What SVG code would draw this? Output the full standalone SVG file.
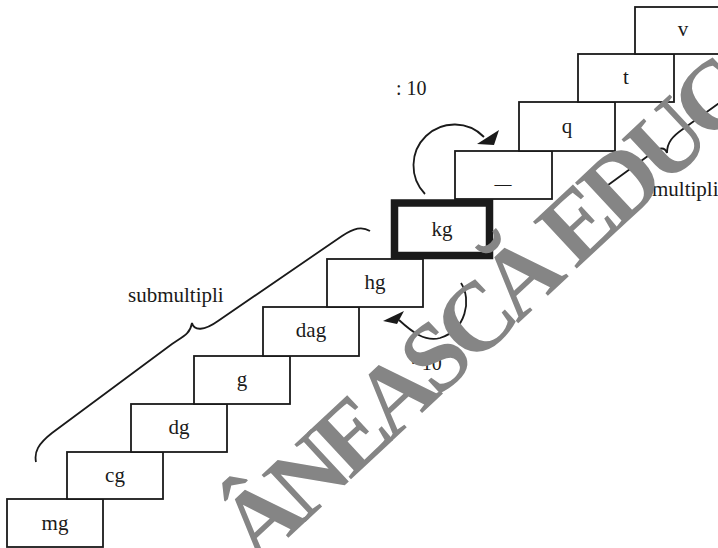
<svg xmlns="http://www.w3.org/2000/svg" width="718" height="548" viewBox="0 0 718 548">
  <style>
    .box rect { fill: #ffffff; stroke: #1a1a1a; stroke-width: 1.8; }
    .box text, .lbl { font-family: "Liberation Serif", "Times New Roman", serif; font-size: 21px; fill: #1a1a1a; }
    .box text { text-anchor: middle; }
    .line { fill: none; stroke: #1a1a1a; stroke-width: 1.8; }
    .head { fill: #1a1a1a; stroke: none; }
    .mark { font-family: "Liberation Serif", "Times New Roman", serif; font-weight: bold; font-size: 98px; letter-spacing: -8px; fill: #858585; }
  </style>
  <rect width="718" height="548" fill="#ffffff"/>

  <!-- staircase of mass units -->
  <g id="node-mg" class="box"><rect x="7" y="499" width="96" height="48"/><text x="55" y="530">mg</text></g>
  <g id="node-cg" class="box"><rect x="67" y="452" width="96" height="47"/><text x="115" y="482">cg</text></g>
  <g id="node-dg" class="box"><rect x="131" y="404" width="96" height="48"/><text x="179" y="434">dg</text></g>
  <g id="node-g" class="box"><rect x="194" y="356" width="96" height="48"/><text x="242" y="386">g</text></g>
  <g id="node-dag" class="box"><rect x="263" y="307" width="96" height="49"/><text x="311" y="337">dag</text></g>
  <g id="node-hg" class="box"><rect x="327" y="259" width="96" height="48"/><text x="375" y="289">hg</text></g>
  <g id="node-blank" class="box"><rect x="455" y="151" width="97" height="48"/><text x="503" y="189" style="font-size:17px">—</text></g>
  <g id="node-q" class="box"><rect x="519" y="102" width="96" height="49"/><text x="567" y="133">q</text></g>
  <g id="node-t" class="box"><rect x="578" y="54" width="96" height="48"/><text x="626" y="84">t</text></g>
  <g id="node-v" class="box"><rect x="635" y="7" width="96" height="47"/><text x="683" y="36">v</text></g>
  <g id="node-kg" class="box"><rect x="394.5" y="203" width="95" height="52.5" style="stroke-width:7.5"/><text x="442" y="236">kg</text></g>

  <!-- braces, conversion arrows and their labels -->
  <g id="connectors">
    <path class="line" d="M36,462 C34,452 38,444 52,433 L172,344 C184,336 190,334 192,323 C194,331 204,331 218,321 L342,236 C354,228 362,226 370,231"/>
    <path class="line" d="M604,188 L652,153 C660,147 665,147 667,153 C667,142 673,136 683,129 L722,101"/>
    <path class="line" d="M425,194 A40,40 0 1,1 484,137"/>
    <polygon class="head" points="499,130 494,145 477,144"/>
    <path class="line" d="M461,283 C472,300 466,330 440,338 C425,342 412,332 399,320"/>
    <polygon class="head" points="383,321 404,311 397,324"/>
  </g>
  <text class="lbl" x="396" y="95" style="font-size:20px">: 10</text>
  <text class="lbl" x="410" y="370" style="font-size:20px">· 10</text>
  <text class="lbl" x="128" y="302">submultipli</text>
  <text class="lbl" x="652" y="196">multipli</text>

  <!-- publisher watermark across the page -->
  <text class="mark" transform="translate(258,566) rotate(-43)">ÂNEASCĂ EDUC</text>
</svg>
